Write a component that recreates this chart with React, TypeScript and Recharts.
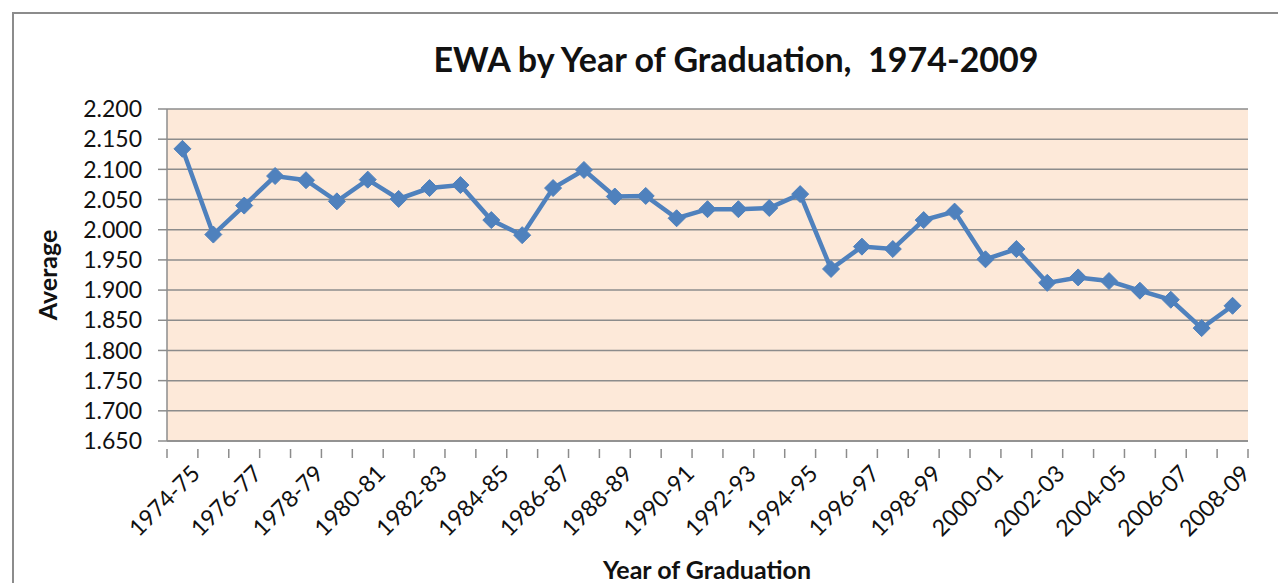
import React from 'react';
import { LineChart, Line, XAxis, YAxis, CartesianGrid } from 'recharts';

const categories = [
  '1974-75','1975-76','1976-77','1977-78','1978-79','1979-80','1980-81','1981-82','1982-83','1983-84',
  '1984-85','1985-86','1986-87','1987-88','1988-89','1989-90','1990-91','1991-92','1992-93','1993-94',
  '1994-95','1995-96','1996-97','1997-98','1998-99','1999-00','2000-01','2001-02','2002-03','2003-04',
  '2004-05','2005-06','2006-07','2007-08','2008-09',
];

const averages = [
  2.134, 1.992, 2.040, 2.089, 2.082, 2.047, 2.083, 2.051, 2.069, 2.074,
  2.016, 1.991, 2.069, 2.099, 2.055, 2.056, 2.019, 2.034, 2.034, 2.036,
  2.059, 1.935, 1.972, 1.968, 2.016, 2.030, 1.951, 1.968, 1.912, 1.921,
  1.915, 1.899, 1.884, 1.837, 1.874,
];

const yTicks = [1.65, 1.7, 1.75, 1.8, 1.85, 1.9, 1.95, 2.0, 2.05, 2.1, 2.15, 2.2];

const data = categories.map((c, i) => ({ year: c, avg: averages[i] }));

const W = 1278;
const H = 583;
const MARGIN = { top: 109, right: 30, left: 0, bottom: 0 };
const Y_W = 167;
const X_H = 142;
const HALF_STEP = (W - Y_W - MARGIN.right) / categories.length / 2;
const FONT = 'Lato, "Open Sans", sans-serif';
const AXIS_GRAY = '#8c8c8c';
const TICK_FS = 23;

const Diamond = (props: any) => {
  const { cx, cy } = props;
  if (cx == null || cy == null) return null;
  const r = 8.5;
  return (
    <polygon
      points={`${cx},${cy - r} ${cx + r},${cy} ${cx},${cy + r} ${cx - r},${cy}`}
      fill="#4F81BD"
      stroke="#4F81BD"
      strokeWidth={1}
    />
  );
};

const XTick = (props: any) => {
  const { x, y, payload, index } = props;
  const idx = index ?? payload?.index ?? 0;
  const last = idx === categories.length - 1;
  const ax = x + 19;
  const ay = y + 26;
  return (
    <g>
      <line x1={x - HALF_STEP} y1={y} x2={x - HALF_STEP} y2={y + 9} stroke={AXIS_GRAY} strokeWidth={1.5} />
      {last && (
        <line x1={x + HALF_STEP} y1={y} x2={x + HALF_STEP} y2={y + 9} stroke={AXIS_GRAY} strokeWidth={1.5} />
      )}
      {idx % 2 === 0 && (
        <text
          x={ax}
          y={ay}
          transform={`rotate(-45 ${ax} ${ay})`}
          textAnchor="end"
          fontFamily={FONT}
          fontSize={TICK_FS}
          fill="#111"
        >
          {payload.value}
        </text>
      )}
    </g>
  );
};

export default function App() {
  return (
    <div style={{ position: 'absolute', left: 0, top: 0, width: W, height: H, overflow: 'hidden', background: '#fff' }}>
      <div
        style={{
          position: 'absolute',
          left: 12,
          top: 12,
          width: W + 20,
          height: H + 20,
          border: `2px solid ${AXIS_GRAY}`,
        }}
      />
      <div
        style={{
          position: 'absolute',
          left: 736,
          top: 58,
          transform: 'translate(-50%, -50%)',
          fontFamily: FONT,
          fontWeight: 700,
          fontSize: 34,
          color: '#111',
          whiteSpace: 'pre',
        }}
      >
        {'EWA by Year of Graduation,  1974-2009'}
      </div>
      <div style={{ position: 'absolute', left: 0, top: 0 }}>
        <LineChart width={W} height={H} data={data} margin={MARGIN}>
          <CartesianGrid vertical={false} stroke={AXIS_GRAY} strokeWidth={1.5} fill="#FDE9D9" />
          <XAxis
            dataKey="year"
            interval={0}
            height={X_H}
            padding={{ left: HALF_STEP, right: HALF_STEP }}
            tickLine={false}
            axisLine={{ stroke: AXIS_GRAY, strokeWidth: 1.5 }}
            tick={<XTick />}
          />
          <YAxis
            width={Y_W}
            domain={[1.65, 2.2]}
            ticks={yTicks}
            interval={0}
            tickFormatter={(v: number) => v.toFixed(3)}
            tickSize={9}
            tickMargin={16}
            tickLine={{ stroke: AXIS_GRAY, strokeWidth: 1.5 }}
            axisLine={{ stroke: AXIS_GRAY, strokeWidth: 1.5 }}
            tick={{ fontFamily: FONT, fontSize: TICK_FS, fill: '#111' }}
            allowDataOverflow
          />
          <Line
            type="linear"
            dataKey="avg"
            stroke="#4F81BD"
            strokeWidth={4.5}
            dot={<Diamond />}
            activeDot={false}
            isAnimationActive={false}
          />
        </LineChart>
      </div>
      <div
        style={{
          position: 'absolute',
          left: 47,
          top: 275,
          transform: 'translate(-50%, -50%) rotate(-90deg)',
          fontFamily: FONT,
          fontWeight: 700,
          fontSize: 25,
          color: '#111',
          whiteSpace: 'nowrap',
        }}
      >
        Average
      </div>
      <div
        style={{
          position: 'absolute',
          left: 707,
          top: 569,
          transform: 'translate(-50%, -50%)',
          fontFamily: FONT,
          fontWeight: 700,
          fontSize: 25,
          color: '#111',
          whiteSpace: 'nowrap',
        }}
      >
        Year of Graduation
      </div>
    </div>
  );
}
